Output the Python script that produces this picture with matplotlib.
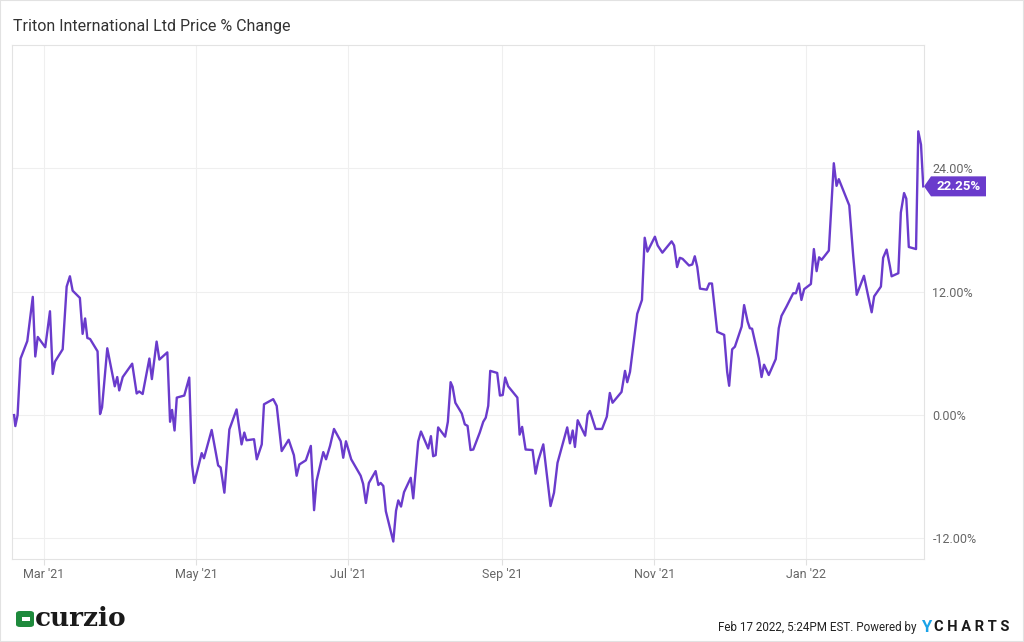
import pandas as pd
import matplotlib
matplotlib.use("Agg")
import matplotlib.pyplot as plt
import matplotlib.dates as mdates
from matplotlib.patches import Polygon, Rectangle, FancyBboxPatch

plt.rcParams['font.family'] = ['Roboto', 'DejaVu Sans']

# days since Feb 17 2021 and price % change
days = [0.0, 0.5, 1.4, 2.6, 5.3, 7.5, 8.5, 9.5, 12.5, 14.4, 15.5, 16.4, 19.5, 21.1, 22.4,
        23.5, 26.4, 27.5, 28.5, 29.4, 30.5, 33.5, 34.5, 35.3, 37.4, 40.4, 41.4, 42.2, 43.6,
        47.4, 49.2, 50.2, 51.6, 54.3, 55.3, 57.2, 58.3, 61.5, 62.6, 63.4, 64.4, 65.3, 68.3,
        70.3, 71.4, 72.3, 75.3, 76.2, 79.3, 81.9, 82.9, 84.4, 86.4, 89.3, 91.3, 92.4, 93.3,
        96.3, 97.4, 99.4, 100.3, 104.0, 105.4, 107.4, 110.2, 112.3, 113.4, 114.5, 117.1,
        119.1, 120.4, 121.4, 124.1, 125.2, 126.8, 128.4, 131.1, 132.1, 133.2, 135.3, 139.1,
        140.1, 141.2, 142.4, 145.1, 146.2, 147.1, 148.2, 149.2, 152.2, 153.3, 154.2, 155.3,
        156.5, 159.2, 160.2, 162.2, 163.3, 166.2, 167.3, 168.2, 169.2, 170.2, 173.0, 174.1,
        175.2, 176.0, 177.1, 179.7, 180.9, 182.0, 183.2, 184.3, 186.9, 188.3, 189.3, 190.3,
        191.1, 193.9, 195.0, 196.1, 197.1, 198.3, 202.0, 202.9, 203.9, 205.3, 208.1, 209.3,
        210.4, 212.4, 215.3, 216.7, 218.1, 222.0, 223.1, 224.2, 225.1, 226.2, 229.2, 230.2,
        231.1, 233.4, 236.0, 237.9, 239.1, 240.2, 243.8, 245.2, 246.1, 247.2, 250.1, 252.0,
        253.1, 254.2, 257.2, 258.3, 260.2, 263.9, 264.9, 266.1, 267.2, 268.3, 270.9, 272.2,
        273.2, 274.2, 275.3, 278.0, 279.0, 280.1, 282.2, 285.0, 286.2, 287.0, 288.2, 289.3,
        292.0, 293.0, 294.4, 295.3, 296.2, 298.9, 300.0, 301.0, 302.9, 305.7, 306.9, 308.0,
        310.0, 312.7, 313.8, 315.0, 316.0, 317.1, 319.8, 321.0, 322.1, 323.1, 324.1, 327.0,
        329.0, 330.1, 331.0, 335.2, 336.8, 338.2, 341.1, 342.6, 344.2, 345.2, 347.9, 348.8,
        350.2, 351.5, 352.2, 354.9, 355.9, 357.2, 358.1, 359.1, 362.0, 362.9, 364.0, 364.9]
pct = [0.0, -1.07, 0.0, 5.5, 7.2, 11.5, 5.7, 7.6, 6.6, 10.1, 4.0, 5.2, 6.4, 12.5, 13.5,
       12.1, 11.4, 7.9, 9.4, 7.5, 7.4, 6.2, 0.1, 0.75, 6.5, 2.8, 3.7, 2.4, 3.7,
       5.0, 2.1, 2.3, 2.05, 5.5, 3.5, 7.15, 5.4, 6.1, -0.65, 0.5, -1.5, 1.7, 1.9,
       3.65, -4.8, -6.6, -3.7, -4.2, -1.45, -4.9, -5.1, -7.55, -1.4, 0.55, -2.85, -1.7, -2.45,
       -2.35, -4.3, -2.85, 1.05, 1.55, 0.9, -3.5, -2.4, -3.9, -5.9, -4.8, -4.4,
       -3.0, -9.25, -6.4, -3.6, -4.3, -3.0, -1.35, -2.55, -4.15, -2.55, -4.3, -5.9,
       -6.7, -8.55, -6.6, -5.45, -6.8, -6.6, -6.9, -9.35, -12.3, -9.3, -8.3, -8.9,
       -7.5, -6.1, -8.1, -2.55, -1.6, -3.25, -2.05, -4.0, -3.9, -1.2, -2.1, -0.65,
       3.2, 2.75, 1.2, 0.15, -0.9, -1.05, -3.4, -3.35, -1.7, -0.65, -0.25, 0.9,
       4.3, 4.1, 1.9, 1.95, 3.65, 2.8, 1.7, -1.9, -1.15, -3.35, -3.4, -5.7,
       -4.4, -2.85, -8.85, -7.55, -4.65, -1.2, -2.75, -1.5, -3.1, -0.5, -2.0, 0.05,
       0.4, -1.35, -1.35, -0.15, 2.15, 1.2, 2.25, 4.3, 3.2, 4.2, 9.85, 11.2,
       17.25, 15.9, 17.35, 16.5, 15.8, 16.9, 16.5, 14.4, 15.3, 15.2, 14.55, 14.65,
       15.45, 14.4, 12.3, 12.2, 12.8, 12.8, 8.1, 7.8, 4.2, 2.85, 6.4, 6.65,
       8.6, 10.7, 9.1, 8.45, 8.4, 5.5, 3.7, 4.9, 3.9, 5.45, 8.45, 9.65,
       10.55, 11.85, 11.85, 12.8, 11.2, 12.25, 12.75, 16.15, 14.0, 15.35, 15.1, 16.0,
       24.5, 22.3, 22.95, 20.4, 15.45, 11.7, 13.55, 11.8, 10.0, 11.55, 12.5, 15.3,
       16.1, 14.5, 13.5, 13.8, 19.7, 21.6, 21.05, 16.35, 16.15, 27.6, 26.3, 22.25]

start = pd.Timestamp('2021-02-17')
dates = start + pd.to_timedelta(days, unit='D')
yticks = [-12, 0, 12, 24]
last_label = '22.25%'

purple = '#6a3bcc'
W, H = 1024, 642

fig = plt.figure(figsize=(W / 100, H / 100), dpi=100)
ax = fig.add_axes([12 / W, 1 - 559 / H, 912 / W, 514 / H])

ax.plot(dates, pct, color=purple, lw=1.7, solid_joinstyle='round', zorder=3)

ax.set_xlim(start - pd.Timedelta(days=0.84), start + pd.Timedelta(days=365.2))
ax.set_ylim(-14.0, 36.0)

ax.xaxis.set_major_locator(mdates.MonthLocator(bymonth=[1, 3, 5, 7, 9, 11]))
ax.xaxis.set_major_formatter(mdates.DateFormatter("%b '%y"))
ax.set_yticks(yticks)
ax.set_yticklabels([f'{v:.2f}%' for v in yticks])
ax.yaxis.tick_right()

ax.grid(True, color='#efefef', lw=0.8, zorder=0)
ax.tick_params(axis='x', length=4, color='#e0e0e0', pad=2.5, labelsize=9, labelcolor='#666666')
ax.tick_params(axis='y', length=0, pad=6, labelsize=9, labelcolor='#666666')
for s in ax.spines.values():
    s.set_color('#e3e3e3')
    s.set_linewidth(0.8)

# last value tag on the right edge
fig.canvas.draw()
px, py = ax.transData.transform((mdates.date2num(dates[-1]), pct[-1]))
x0 = ax.transAxes.transform((1, 0))[0]
tag = [(x0, py), (x0 + 7, py + 10), (x0 + 62, py + 10), (x0 + 62, py - 10), (x0 + 7, py - 10)]
tag = [(a / W, b / H) for a, b in tag]
fig.patches.append(Polygon(tag, closed=True, transform=fig.transFigure,
                           facecolor=purple, edgecolor='none', zorder=5))
fig.text((x0 + 35) / W, py / H, last_label, color='white', fontsize=9.5,
         fontweight='bold', ha='center', va='center', zorder=6)

fig.text(13 / W, 1 - 27 / H, 'Triton International Ltd Price % Change',
         fontsize=11.5, color='#333333', va='center', ha='left')

# curzio logo
fig.patches.append(FancyBboxPatch((16 / W, 1 - 627 / H), 18 / W, 16 / H,
                                  boxstyle='round,pad=0,rounding_size=0.004',
                                  transform=fig.transFigure, facecolor='#1e8a3c',
                                  edgecolor='none'))
fig.patches.append(Rectangle((22 / W, 1 - 621 / H), 8 / W, 4 / H,
                             transform=fig.transFigure, facecolor='white', edgecolor='none'))
fig.text(35 / W, 1 - 619 / H, 'curzio', fontsize=19, fontweight='bold',
         family='DejaVu Serif', color='#1a1a1a', va='center', ha='left')

# footer
fig.text(917 / W, 1 - 628 / H, 'Feb 17 2022, 5:24PM EST. Powered by',
         fontsize=8.4, color='#222222', va='center', ha='right')
fig.text(921 / W, 1 - 627 / H, 'Y', fontsize=12, fontweight='bold',
         color='#1aa3e8', va='center', ha='left')
fig.text(934 / W, 1 - 627 / H, 'C H A R T S', fontsize=10.5, fontweight='bold',
         color='#1a1a1a', va='center', ha='left')

fig.patches.append(Rectangle((0, 0), 1, 1, transform=fig.transFigure, fill=False,
                             edgecolor='#e2e2e2', lw=1.5))

fig.savefig('out.png', dpi=100)
